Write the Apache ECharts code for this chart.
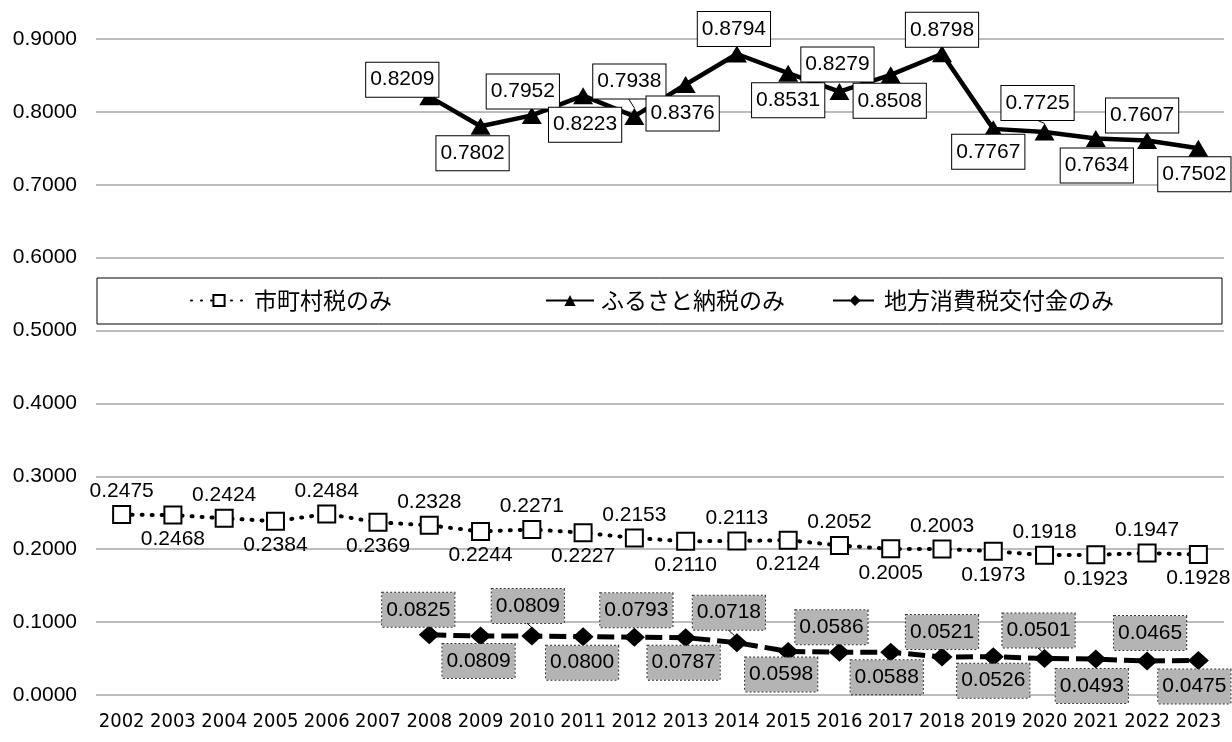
<!DOCTYPE html>
<html>
<head>
<meta charset="utf-8">
<script src="https://cdn.jsdelivr.net/npm/echarts@6/dist/echarts.min.js"></script>
<style>
  html, body { margin: 0; padding: 0; background: #fff; }
  #chart { width: 1232px; height: 742px; }
</style>
</head>
<body>
<div id="chart"></div>
<script>
// Fiscal years on the category axis
const years = ['2002','2003','2004','2005','2006','2007','2008','2009','2010','2011','2012',
               '2013','2014','2015','2016','2017','2018','2019','2020','2021','2022','2023'];

// 市町村税のみ
const municipalTax = [0.2475, 0.2468, 0.2424, 0.2384, 0.2484, 0.2369, 0.2328, 0.2244, 0.2271, 0.2227, 0.2153,
                      0.2110, 0.2113, 0.2124, 0.2052, 0.2005, 0.2003, 0.1973, 0.1918, 0.1923, 0.1947, 0.1928];

// ふるさと納税のみ (from 2008)
const furusatoTax = [null, null, null, null, null, null, 0.8209, 0.7802, 0.7952, 0.8223, 0.7938,
                     0.8376, 0.8794, 0.8531, 0.8279, 0.8508, 0.8798, 0.7767, 0.7725, 0.7634, 0.7607, 0.7502];

// 地方消費税交付金のみ (from 2008)
const consumptionTax = [null, null, null, null, null, null, 0.0825, 0.0809, 0.0809, 0.0800, 0.0793,
                        0.0787, 0.0718, 0.0598, 0.0586, 0.0588, 0.0521, 0.0526, 0.0501, 0.0493, 0.0465, 0.0475];

const seriesNames = ['市町村税のみ', 'ふるさと納税のみ', '地方消費税交付金のみ'];

// Label placement: offset of each value label from its point
const furusatoLabelOffsets = [null, null, null, null, null, null,
  [-27, -17], [-8, 27], [-9, -24], [2, 29], [-5, -35], [-3, 29], [-3, -25], [0, 27],
  [-2, -27], [-1, 26], [0, -24], [-5, 23], [-7, -29], [1, 27], [-5, -25], [-4, 26]];
const consumptionLabelOffsets = [null, null, null, null, null, null,
  [-11, -25], [-2, 25], [-4, -30], [-1, 26], [2, -27], [-2, 25], [-8, -30], [-7, 23],
  [-8, -25], [-4, 25], [0, -25], [0, 24], [-6, -28], [-4, 27], [3, -28], [-4, 26]];
// Labels that sit a little away from their point get a thin guide line
const furusatoGuides = ['2012', '2020'];
const consumptionGuides = ['2010', '2014', '2020'];

const NUM_FONT = '"Liberation Sans", Arial, sans-serif';
const JP_FONT = '"Noto Sans CJK JP", sans-serif';

function withOffsets(values, offsets, guides) {
  return values.map((v, i) => {
    if (v == null) return null;
    const item = { value: v, label: { offset: offsets[i] } };
    if (guides.indexOf(years[i]) >= 0) {
      item.labelLine = { show: true, lineStyle: { color: '#000', width: 1 } };
    }
    return item;
  });
}
function alternating(values, dy) {
  return values.map((v, i) => v == null ? null : { value: v, label: { offset: [0, i % 2 === 0 ? -dy : dy + 1] } });
}
const fmt4 = p => Number(p.value).toFixed(4);

const chart = echarts.init(document.getElementById('chart'), null, { renderer: 'canvas' });

const option = {
  animation: false,
  backgroundColor: '#ffffff',
  grid: { left: 96, right: 8, top: 39, bottom: 47, containLabel: false },
  xAxis: {
    type: 'category',
    data: years,
    boundaryGap: true,
    axisLine: { show: false },
    axisTick: { show: false },
    axisLabel: {
      color: '#000',
      fontSize: 20,
      fontFamily: '"Liberation Sans Narrow", "DejaVu Sans Condensed", "Liberation Sans", sans-serif',
      margin: 17,
      interval: 0
    }
  },
  yAxis: {
    type: 'value',
    min: 0,
    max: 0.9,
    interval: 0.1,
    axisLine: { show: false },
    axisTick: { show: false },
    splitLine: { lineStyle: { color: '#a6a6a6', width: 1.5 } },
    axisLabel: {
      color: '#000',
      fontSize: 21,
      fontFamily: NUM_FONT,
      margin: 19,
      formatter: v => v.toFixed(4)
    }
  },
  graphic: [{
    type: 'rect',
    z: 1,
    shape: { x: 97, y: 278, width: 1125, height: 46 },
    style: { fill: '#ffffff', stroke: '#000000', lineWidth: 1 }
  }],
  legend: [
    { data: [seriesNames[0]], left: 190, itemWidth: 56 },
    { data: [seriesNames[1]], left: 545, itemWidth: 48 },
    { data: [seriesNames[2]], left: 832, itemWidth: 44 }
  ].map(l => Object.assign({
    top: 289,
    z: 5,
    padding: 0,
    itemHeight: 14,
    itemGap: 0,
    selectedMode: false,
    textStyle: { color: '#000', fontSize: 23, fontFamily: JP_FONT, padding: [0, 0, 0, 2] }
  }, l)),
  series: [
    {
      name: seriesNames[0],
      type: 'line',
      data: alternating(municipalTax, 23),
      symbol: 'rect',
      symbolSize: 17,
      itemStyle: { color: '#ffffff', borderColor: '#000000', borderWidth: 2 },
      lineStyle: { color: '#000000', width: 4, type: [1, 9], cap: 'round' },
      label: {
        show: true,
        position: 'inside',
        formatter: fmt4,
        color: '#000',
        fontSize: 21,
        fontFamily: NUM_FONT
      },
      z: 3
    },
    {
      name: seriesNames[1],
      type: 'line',
      data: withOffsets(furusatoTax, furusatoLabelOffsets, furusatoGuides),
      symbol: 'triangle',
      symbolSize: [20, 17],
      itemStyle: { color: '#000000' },
      lineStyle: { color: '#000000', width: 4.5 },
      label: {
        show: true,
        position: 'inside',
        formatter: fmt4,
        color: '#000',
        fontSize: 21,
        fontFamily: NUM_FONT,
        lineHeight: 24,
        backgroundColor: '#ffffff',
        borderColor: '#000000',
        borderWidth: 1,
        padding: [5, 4, 5, 4]
      },
      z: 3
    },
    {
      name: seriesNames[2],
      type: 'line',
      data: withOffsets(consumptionTax, consumptionLabelOffsets, consumptionGuides),
      symbol: 'diamond',
      symbolSize: [21, 19],
      itemStyle: { color: '#000000' },
      lineStyle: { color: '#000000', width: 5, type: [17, 7] },
      label: {
        show: true,
        position: 'inside',
        formatter: fmt4,
        color: '#000',
        fontSize: 21,
        fontFamily: NUM_FONT,
        lineHeight: 24,
        backgroundColor: '#b4b4b4',
        borderColor: '#333333',
        borderWidth: 1,
        borderType: 'dotted',
        padding: [5, 4, 5, 4]
      },
      z: 3
    }
  ]
};

chart.setOption(option);
</script>
</body>
</html>
